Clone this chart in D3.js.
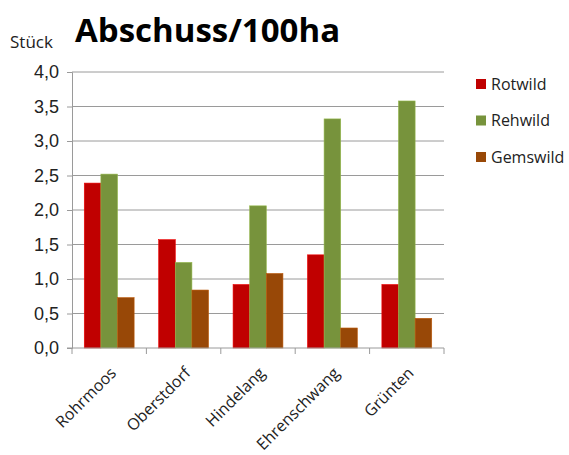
<!DOCTYPE html>
<html>
<head>
<meta charset="utf-8">
<script src="https://cdn.jsdelivr.net/npm/d3@7"></script>
<style>
  body { margin: 0; background: #fff; }
  svg { font-family: "Open Sans", "DejaVu Sans", sans-serif; }
</style>
</head>
<body>
<div id="chart"></div>
<script>
// ── Daten ──────────────────────────────────────────────
const reviere  = ['Rohrmoos', 'Oberstdorf', 'Hindelang', 'Ehrenschwang', 'Grünten'];
const arten    = ['Rotwild', 'Rehwild', 'Gemswild'];
const rotwild  = [2.39, 1.57, 0.92, 1.35, 0.92];
const rehwild  = [2.52, 1.24, 2.06, 3.32, 3.58];
const gemswild = [0.73, 0.84, 1.08, 0.29, 0.43];
const yTicks   = [0, 0.5, 1, 1.5, 2, 2.5, 3, 3.5, 4];
const farben   = ['#C00000', '#77933C', '#984807'];

const werte = [rotwild, rehwild, gemswild];

const W = 569, H = 455;
const m = { top: 72, left: 72, right: 125, bottom: 107 };

const svg = d3.select('#chart').append('svg').attr('width', W).attr('height', H);

const x0 = d3.scaleBand().domain(reviere).range([m.left, W - m.right])
  .paddingInner(0.33).paddingOuter(0.165);
const x1 = d3.scaleBand().domain(arten).range([0, x0.bandwidth()]);
const y = d3.scaleLinear().domain([0, 4]).range([H - m.bottom, m.top]);
const col = d3.scaleOrdinal().domain(arten).range(farben);

// Gitterlinien
svg.append('g').selectAll('line').data(yTicks.filter(t => t > 0)).enter().append('line')
  .attr('x1', m.left).attr('x2', W - m.right)
  .attr('y1', d => y(d)).attr('y2', d => y(d))
  .attr('stroke', '#9a9a9a').attr('stroke-width', 1);

// Y-Achse
const yAx = svg.append('g').attr('transform', `translate(${m.left},0)`)
  .call(d3.axisLeft(y).tickValues(yTicks).tickSize(5).tickPadding(8)
    .tickFormat(d => d3.format('.1f')(d).replace('.', ',')));
yAx.select('.domain').attr('stroke', '#9a9a9a');
yAx.selectAll('.tick line').attr('stroke', '#9a9a9a');
yAx.selectAll('text').attr('font-size', 18).attr('fill', '#222');

// Balken
svg.append('g').selectAll('g').data(reviere).enter().append('g')
  .attr('transform', d => `translate(${x0(d)},0)`)
  .selectAll('rect').data((d, i) => arten.map((a, j) => ({ a, v: werte[j][i] })))
  .enter().append('rect')
  .attr('x', d => x1(d.a)).attr('width', x1.bandwidth())
  .attr('y', d => y(d.v)).attr('height', d => y(0) - y(d.v))
  .attr('fill', d => col(d.a))
  .attr('stroke', d => d3.color(col(d.a)).brighter(0.6)).attr('stroke-width', 0.6);

// X-Achse
const xAx = svg.append('g').attr('transform', `translate(0,${y(0)})`);
xAx.append('line').attr('x1', m.left - 5).attr('x2', W - m.right)
  .attr('stroke', '#9a9a9a');
const grenzen = reviere.map(r => x0(r) - x0.step() * x0.paddingInner() / 2)
  .concat([W - m.right]);
xAx.selectAll('line.tk').data(grenzen).enter().append('line')
  .attr('x1', d => d).attr('x2', d => d).attr('y1', 0).attr('y2', 6)
  .attr('stroke', '#9a9a9a');
xAx.selectAll('text').data(reviere).enter().append('text')
  .attr('transform', d => `translate(${x0(d) + x0.bandwidth() / 2 + 8},${26}) rotate(-45)`)
  .attr('text-anchor', 'end').attr('font-size', 16).attr('fill', '#222')
  .text(d => d);

// Titel
svg.append('text').attr('x', 75).attr('y', 42)
  .attr('font-size', 33).attr('font-weight', 'bold').attr('fill', '#000')
  .text('Abschuss/100ha');
svg.append('text').attr('x', 10).attr('y', 48)
  .attr('font-size', 17).attr('fill', '#222').text('Stück');

// Legende
const lg = svg.append('g').selectAll('g').data(arten).enter().append('g')
  .attr('transform', (d, i) => `translate(476,${84 + i * 36.5})`);
lg.append('rect').attr('x', 0).attr('y', -5).attr('width', 10).attr('height', 10)
  .attr('fill', d => col(d));
lg.append('text').attr('x', 15).attr('dy', '0.35em').attr('font-size', 16)
  .attr('fill', '#222').text(d => d);
</script>
</body>
</html>
